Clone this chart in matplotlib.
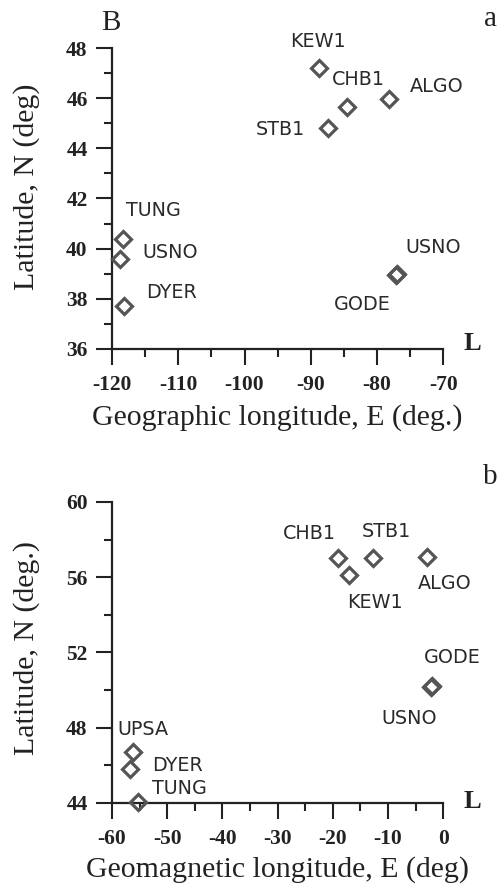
#station positions, geographic and geomagnetic coordinates
import numpy as np
import matplotlib
matplotlib.use('Agg')
import matplotlib.pyplot as plt
from matplotlib.ticker import MultipleLocator

plt.rcParams['axes.unicode_minus']=False

#part a: geographic coordinates
geo_names=['KEW1','CHB1','ALGO','STB1','TUNG','USNO','DYER','USNO','GODE']
geo_lon=[-88.7,-84.5,-78.2,-87.4,-118.3,-118.8,-118.2,-77.0,-77.2]
geo_lat=[47.2,45.65,45.95,44.8,40.4,39.6,37.7,39.0,38.95]

#part b: geomagnetic coordinates
mag_names=['CHB1','KEW1','STB1','ALGO','GODE','USNO','UPSA','DYER','TUNG']
mag_lon=[-19.1,-17.1,-12.8,-3.0,-2.1,-2.3,-56.2,-56.7,-55.3]
mag_lat=[57.0,56.1,57.0,57.1,50.2,50.15,46.7,45.8,44.05]

#label offsets in pixels (dx,dy) from each station
geo_off=[(-1,27),(11,27),(48,13),(-48,-1),(30,28),(50,6),(48,14),(36,26),(-33,-30)]
mag_off=[(-28,25),(26,-27),(14,27),(18,-27),(21,29),(-21,-31),(10,23),(47,4),(41,14)]

serif='Liberation Serif'
mcol='#555555'
tcol='#222222'

def panel(ax,lon,lat,names,off,xlim,ylim,xmaj,xmin,ymaj,ymin):
    ax.plot(lon,lat,'D',ms=7.8,mfc='none',mec=mcol,mew=2.3,clip_on=False,zorder=5)
    for i in range(len(names)):
        ax.annotate(names[i],(lon[i],lat[i]),xytext=off[i],textcoords='offset pixels',
                    ha='center',va='center',fontsize=13.8,color='#2a2a2a',
                    family='DejaVu Sans',annotation_clip=False)
    ax.set_xlim(xlim)
    ax.set_ylim(ylim)
    ax.xaxis.set_major_locator(MultipleLocator(xmaj))
    ax.xaxis.set_minor_locator(MultipleLocator(xmin))
    ax.yaxis.set_major_locator(MultipleLocator(ymaj))
    ax.yaxis.set_minor_locator(MultipleLocator(ymin))
    for s in ['top','right']:
        ax.spines[s].set_visible(False)
    for s in ['left','bottom']:
        ax.spines[s].set_linewidth(1.6)
        ax.spines[s].set_color(tcol)
    ax.tick_params(which='major',length=11.5,width=1.5,color=tcol)
    ax.tick_params(which='minor',length=5.8,width=1.5,color=tcol)
    ax.tick_params(axis='x',which='major',pad=7)
    ax.tick_params(axis='y',which='major',pad=6)
    for lab in ax.get_xticklabels()+ax.get_yticklabels():
        lab.set_family(serif)
        lab.set_fontweight('bold')
        lab.set_fontsize(15.5)
        lab.set_color(tcol)

fig=plt.figure(figsize=(4.98,8.9),dpi=100)

ax1=fig.add_axes([0.225,0.608,0.665,0.338])
panel(ax1,geo_lon,geo_lat,geo_names,geo_off,(-120,-70),(36,48),10,5,2,1)
ax1.set_xlabel('Geographic longitude, E (deg.)',family=serif,fontsize=21.5,color=tcol,labelpad=7)
ax1.set_ylabel('Latitude, N (deg)',family=serif,fontsize=21.5,color=tcol)
ax1.yaxis.set_label_coords(-0.218,0.538)
fig.text(111/498,1-23/890,'B',family=serif,fontsize=21,ha='center',va='center',color=tcol)
fig.text(490/498,1-19/890,'a',family=serif,fontsize=21,ha='center',va='center',color=tcol)
fig.text(472/498,1-343/890,'L',family=serif,fontsize=19,fontweight='bold',ha='center',va='center',color=tcol)

ax2=fig.add_axes([0.225,0.0978,0.665,0.3382])
panel(ax2,mag_lon,mag_lat,mag_names,mag_off,(-60,0),(44,60),10,5,4,2)
ax2.set_xlabel('Geomagnetic longitude, E (deg)',family=serif,fontsize=21.5,color=tcol,labelpad=5)
ax2.set_ylabel('Latitude, N (deg.)',family=serif,fontsize=21.5,color=tcol)
ax2.yaxis.set_label_coords(-0.218,0.515)
fig.text(490/498,1-477/890,'b',family=serif,fontsize=21,ha='center',va='center',color=tcol)
fig.text(472/498,1-802/890,'L',family=serif,fontsize=19,fontweight='bold',ha='center',va='center',color=tcol)

plt.savefig('out.png',dpi=100)
